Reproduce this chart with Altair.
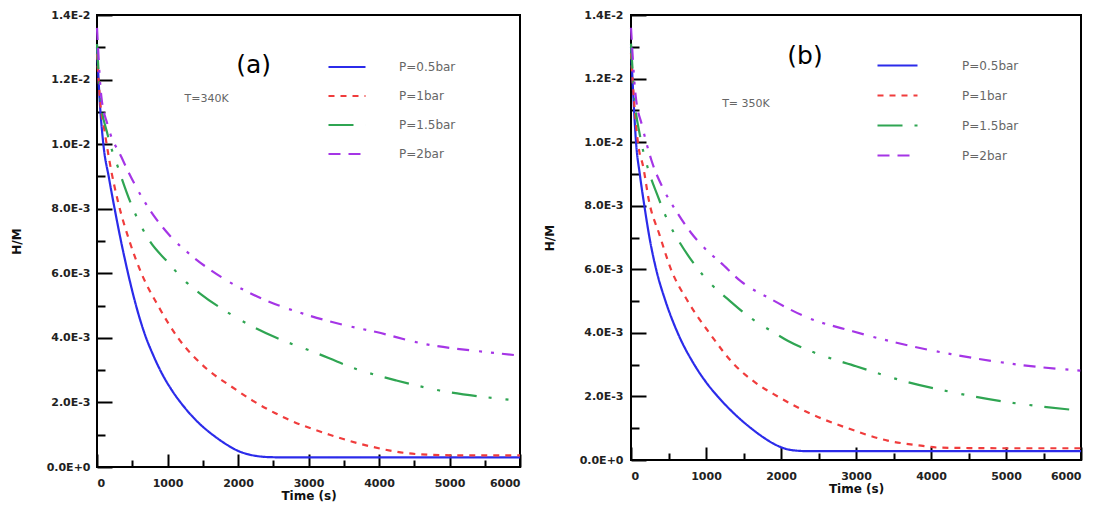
import altair as alt
import pandas as pd

# ---------------- data ----------------
series = ["P=0.5bar", "P=1bar", "P=1.5bar", "P=2bar"]
colors = ["#2b2bea", "#f03c3c", "#2fa552", "#a535e6"]
dashes = [[1, 0], [6, 6], [25, 12, 3, 14, 3, 12], [12, 8, 12, 10, 3, 9, 3, 8]]

x_labels = [0, 1000, 2000, 3000, 4000, 5000, 6000]
x_minor = [500, 1500, 2500, 3500, 4500, 5500]
y_labels = [0.0, 0.002, 0.004, 0.006, 0.008, 0.010, 0.012, 0.014]
y_minor = [0.001, 0.003, 0.005, 0.007, 0.009, 0.011, 0.013]

# Panel (a) T=340K
blue_a_t = [0, 40, 90, 170, 250, 340, 440, 560, 680, 800, 920, 1070, 1240, 1450, 1670, 1850, 2000, 2150, 2300, 2450, 2600, 6000]
blue_a = [1.30e-2, 1.13e-2, 1.00e-2, 8.95e-3, 8.0e-3, 7.0e-3, 6.0e-3, 4.95e-3, 4.1e-3, 3.45e-3, 2.9e-3, 2.35e-3, 1.85e-3, 1.35e-3, 9.5e-4, 6.8e-4, 5.0e-4, 3.9e-4, 3.3e-4, 3.05e-4, 3.0e-4, 3.0e-4]
red_a_t = [0, 50, 100, 200, 300, 460, 630, 865, 1149, 1551, 1900, 2212, 2686, 3300, 3914, 4388, 4700, 5200, 6000]
red_a = [1.28e-2, 1.12e-2, 1.05e-2, 9.2e-3, 8.2e-3, 7.0e-3, 6.0e-3, 5.0e-3, 4.0e-3, 3.05e-3, 2.5e-3, 2.05e-3, 1.5e-3, 1.0e-3, 6.2e-4, 4.3e-4, 3.8e-4, 3.6e-4, 3.6e-4]
green_a_t = [0, 50, 150, 298, 511, 747, 993, 1268, 1457, 1882, 2545, 3018, 3727, 4247, 4861, 5523, 6000]
green_a = [1.31e-2, 1.14e-2, 1.03e-2, 9.28e-3, 8.0e-3, 7.0e-3, 6.37e-3, 5.72e-3, 5.38e-3, 4.75e-3, 4.0e-3, 3.61e-3, 3.0e-3, 2.68e-3, 2.37e-3, 2.16e-3, 2.05e-3]
purple_a_t = [0, 60, 150, 346, 652, 1031, 1338, 1787, 2354, 2922, 3500, 3963, 4624, 5523, 6000]
purple_a = [1.36e-2, 1.15e-2, 1.06e-2, 9.6e-3, 8.3e-3, 7.17e-3, 6.55e-3, 5.85e-3, 5.2e-3, 4.75e-3, 4.4e-3, 4.18e-3, 3.82e-3, 3.56e-3, 3.45e-3]

# Panel (b) T=350K
blue_b_t = [0, 30, 67, 120, 178, 250, 335, 460, 622, 844, 1000, 1156, 1380, 1600, 1760, 1911, 2050, 2178, 2350, 6000]
blue_b = [1.30e-2, 1.15e-2, 1.0e-2, 8.95e-3, 8.0e-3, 6.95e-3, 6.0e-3, 5.0e-3, 4.0e-3, 3.0e-3, 2.45e-3, 2.0e-3, 1.45e-3, 1.0e-3, 7.2e-4, 5.0e-4, 3.6e-4, 3.0e-4, 2.8e-4, 2.8e-4]
red_b_t = [0, 50, 111, 156, 244, 378, 533, 756, 1044, 1378, 1650, 1956, 2400, 2889, 3422, 3867, 4100, 5000, 6000]
red_b = [1.28e-2, 1.1e-2, 9.7e-3, 9.3e-3, 8.1e-3, 7.1e-3, 6.0e-3, 5.0e-3, 4.0e-3, 3.0e-3, 2.45e-3, 2.0e-3, 1.45e-3, 1.0e-3, 6.1e-4, 4.5e-4, 3.9e-4, 3.7e-4, 3.7e-4]
green_b_t = [0, 50, 120, 222, 356, 511, 622, 844, 1089, 1267, 1556, 1911, 2089, 2444, 3000, 3689, 4289, 4911, 5378, 6000]
green_b = [1.31e-2, 1.13e-2, 1.02e-2, 9.2e-3, 8.31e-3, 7.42e-3, 6.95e-3, 6.16e-3, 5.48e-3, 5.11e-3, 4.54e-3, 4.0e-3, 3.75e-3, 3.38e-3, 2.95e-3, 2.45e-3, 2.13e-3, 1.86e-3, 1.71e-3, 1.55e-3]
purple_b_t = [0, 60, 150, 267, 444, 600, 800, 1000, 1200, 1467, 1867, 2333, 2956, 3556, 4267, 4800, 5267, 6000]
purple_b = [1.36e-2, 1.15e-2, 1.05e-2, 9.47e-3, 8.47e-3, 7.84e-3, 7.15e-3, 6.62e-3, 6.2e-3, 5.62e-3, 5.06e-3, 4.5e-3, 4.05e-3, 3.68e-3, 3.33e-3, 3.12e-3, 2.97e-3, 2.81e-3]

# annotations (data coordinates: time, H/M)
tag_a = ["(a)"]; tag_a_t = [2222]; tag_a_v = [1.246e-2]
temp_a = ["T=340K"]; temp_a_t = [1556]; temp_a_v = [1.14e-2]
tag_b = ["(b)"]; tag_b_t = [2320]; tag_b_v = [1.27e-2]
temp_b = ["T= 350K"]; temp_b_t = [1533]; temp_b_v = [1.12e-2]


def make_df(ts, vs):
    rows = []
    for s, tl, vl in zip(series, ts, vs):
        for t, v in zip(tl, vl):
            rows.append({"series": s, "t": t, "v": v})
    return pd.DataFrame(rows)


df_a = make_df([blue_a_t, red_a_t, green_a_t, purple_a_t], [blue_a, red_a, green_a, purple_a])
df_b = make_df([blue_b_t, red_b_t, green_b_t, purple_b_t], [blue_b, red_b, green_b, purple_b])

FONT = "DejaVu Sans"


def panel(df, W, H, tag, tag_t, tag_v, temp, temp_t, temp_v, leg_x, leg_y, sym, lab_off, row_pad, ylab_pad):
    xs = alt.Scale(domain=[0, 6000], nice=False, zero=False)
    ys = alt.Scale(domain=[0, 0.014], nice=False)
    legend = alt.Legend(
        orient="none", legendX=leg_x, legendY=leg_y, title=None,
        symbolType="stroke", symbolSize=sym, symbolStrokeWidth=2.2,
        labelFontSize=12, labelColor="#666", labelFont=FONT, labelFontWeight="normal",
        labelOffset=lab_off, rowPadding=row_pad, padding=0,
    )
    lines = alt.Chart(df).mark_line(strokeWidth=2.2, interpolate="monotone").encode(
        x=alt.X("t:Q", scale=xs, axis=alt.Axis(
            orient="bottom", values=x_labels, ticks=False, tickSize=0, domain=False,
            title="Time (s)", labelPadding=10, titlePadding=2, format="d")),
        y=alt.Y("v:Q", scale=ys, axis=alt.Axis(
            orient="left", values=y_labels,
            labelExpr="replace(format(datum.value, '.1e'), 'e', 'E')",
            ticks=False, tickSize=0, domain=False, title="H/M",
            labelPadding=ylab_pad, titlePadding=23)),
        color=alt.Color("series:N", scale=alt.Scale(domain=series, range=colors), legend=legend),
        strokeDash=alt.StrokeDash("series:N", scale=alt.Scale(domain=series, range=dashes), legend=legend),
    )

    def tick_layer(xv, yv, xlen, ylen):
        return alt.Chart(df).mark_line(opacity=0).encode(
            x=alt.X("t:Q", scale=xs, axis=alt.Axis(
                orient="top", offset=-H, values=xv, labels=False, domain=False,
                title=None, tickSize=xlen, tickWidth=2, tickColor="black")),
            y=alt.Y("v:Q", scale=ys, axis=alt.Axis(
                orient="right", offset=-W, values=yv, labels=False, domain=False,
                title=None, tickSize=ylen, tickWidth=2, tickColor="black")),
        )

    major = tick_layer(x_labels, y_labels, 13, 15)
    minor = tick_layer(x_minor, y_minor, 7, 8)

    tag_df = pd.DataFrame({"t": tag_t, "v": tag_v, "txt": tag})
    temp_df = pd.DataFrame({"t": temp_t, "v": temp_v, "txt": temp})
    tag_layer = alt.Chart(tag_df).mark_text(fontSize=25, font=FONT, color="black").encode(
        x=alt.X("t:Q", scale=xs, axis=None), y=alt.Y("v:Q", scale=ys, axis=None), text="txt:N")
    temp_layer = alt.Chart(temp_df).mark_text(fontSize=11, font=FONT, color="#666").encode(
        x=alt.X("t:Q", scale=xs, axis=None), y=alt.Y("v:Q", scale=ys, axis=None), text="txt:N")

    return alt.layer(major, minor, lines, tag_layer, temp_layer).resolve_axis(
        x="independent", y="independent").properties(width=W, height=H)


pa = panel(df_a, 423, 452, tag_a, tag_a_t, tag_a_v, temp_a, temp_a_t, temp_a_v, 230, 32, 1370, 32, 3, 7)
pb = panel(df_b, 450, 445, tag_b, tag_b_t, tag_b_v, temp_b, temp_b_t, temp_b_v, 245, 29, 1600, 43, 2, 8)

chart = alt.hconcat(pa, pb, spacing=16).resolve_scale(
    color="independent", strokeDash="independent"
).resolve_legend(color="independent", strokeDash="independent").properties(
    padding={"left": 1, "top": 0, "right": 0, "bottom": 0}
).configure_view(stroke="black", strokeWidth=2).configure_axis(
    grid=False, labelFont=FONT, labelFontWeight="bold", labelFontSize=11, labelColor="#222",
    titleFont=FONT, titleFontWeight="bold", titleFontSize=12, titleColor="#111"
)

chart.save("out.html", embed_options={"renderer": "svg", "actions": False})
